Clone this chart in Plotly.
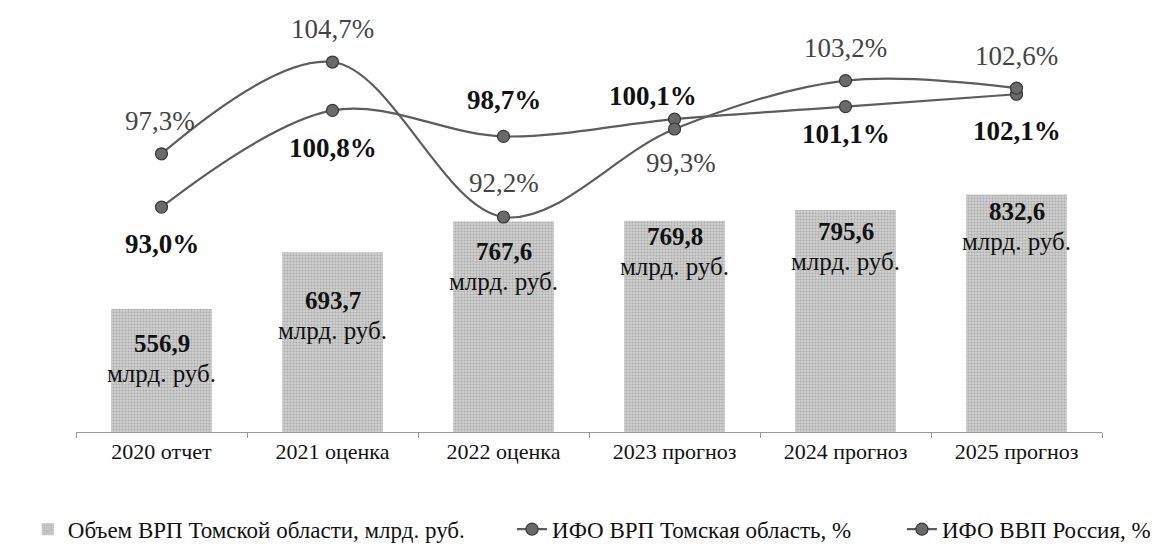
import plotly.graph_objects as go

categories = ["2020 отчет", "2021 оценка", "2022 оценка", "2023 прогноз", "2024 прогноз", "2025 прогноз"]
grp_volume = [556.9, 693.7, 767.6, 769.8, 795.6, 832.6]
ifo_tomsk = [93.0, 100.8, 98.7, 100.1, 101.1, 102.1]
ifo_russia = [97.3, 104.7, 92.2, 99.3, 103.2, 102.6]

def fmt(v, d=1):
    return f"{v:.{d}f}".replace(".", ",")

FONT = "Liberation Serif"
LINE_COL = "#5c5c5c"

fig = go.Figure()
fig.add_trace(go.Bar(
    x=categories, y=grp_volume, name="Объем ВРП Томской области, млрд. руб.",
    marker=dict(color="#cccccc", line=dict(width=0),
                pattern=dict(shape=".", fgcolor="#888888", bgcolor="#d0d0d0", size=3, solidity=0.4)),
    width=0.59, yaxis="y", hoverinfo="skip", legend="legend",
))
fig.add_trace(go.Scatter(
    x=categories, y=ifo_tomsk, name="ИФО ВРП Томская область, %", yaxis="y2",
    mode="lines+markers", line=dict(color=LINE_COL, width=2.2, shape="spline", smoothing=1.0),
    marker=dict(size=12, color="#6a6a6a", line=dict(color="#383838", width=1.2)),
    legend="legend2",
))
fig.add_trace(go.Scatter(
    x=categories, y=ifo_russia, name="ИФО ВВП Россия, %", yaxis="y2",
    mode="lines+markers", line=dict(color=LINE_COL, width=2.2, shape="spline", smoothing=1.0),
    marker=dict(size=12, color="#6a6a6a", line=dict(color="#383838", width=1.2)),
    legend="legend3",
))

ann = []
# bar labels: offset (px) of first line centre below bar top
bar_dy = [35, 48, 30, 16, 22, 17]
for c, v, d in zip(categories, grp_volume, bar_dy):
    ann.append(dict(x=c, y=v, yref="y", xref="x", yanchor="middle", yshift=-d, showarrow=False,
                    text=f"<b>{fmt(v)}</b>", font=dict(family=FONT, size=25, color="#111")))
    ann.append(dict(x=c, y=v, yref="y", xref="x", yanchor="middle", yshift=-d - 30, showarrow=False,
                    text="млрд. руб.", font=dict(family=FONT, size=25, color="#111")))
# Tomsk labels (bold)
t_dy = [-37, -38, 36, 23, -27, -37]
t_dx = [0, 0, 0, -22, 0, 0]
for c, v, s, xs in zip(categories, ifo_tomsk, t_dy, t_dx):
    ann.append(dict(x=c, y=v, yref="y2", xref="x", yanchor="middle", yshift=s, xshift=xs, showarrow=False,
                    text=f"<b>{fmt(v)}%</b>", font=dict(family=FONT, size=27, color="#111")))
# Russia labels (regular)
r_dy = [33, 33, 34, -34, 33, 32]
r_dx = [-2, 0, 0, 6, 0, 0]
for c, v, s, xs in zip(categories, ifo_russia, r_dy, r_dx):
    ann.append(dict(x=c, y=v, yref="y2", xref="x", yanchor="middle", yshift=s, xshift=xs, showarrow=False,
                    text=f"{fmt(v)}%", font=dict(family=FONT, size=27, color="#444")))

leg_common = dict(orientation="h", y=-0.236, yanchor="middle", xanchor="left",
                  font=dict(family=FONT, size=23, color="#111"), bgcolor="rgba(0,0,0,0)")

fig.update_layout(
    width=1152, height=541,
    margin=dict(l=68, r=58, t=12, b=117, autoexpand=False),
    plot_bgcolor="white", paper_bgcolor="white",
    showlegend=True,
    legend=dict(x=-0.047, **leg_common),
    legend2=dict(x=0.425, **leg_common),
    legend3=dict(x=0.805, **leg_common),
    xaxis=dict(showline=True, linecolor="#9a9a9a", linewidth=1, ticks="outside", tickson="boundaries",
               ticklen=5, tickcolor="#9a9a9a", showgrid=False,
               tickfont=dict(family=FONT, size=22, color="#111")),
    yaxis=dict(range=[260, 1253.7], visible=False, showgrid=False),
    yaxis2=dict(range=[74.86, 108.09], overlaying="y", side="right", visible=False, showgrid=False),
    annotations=ann,
)

fig.write_html("out.html")
